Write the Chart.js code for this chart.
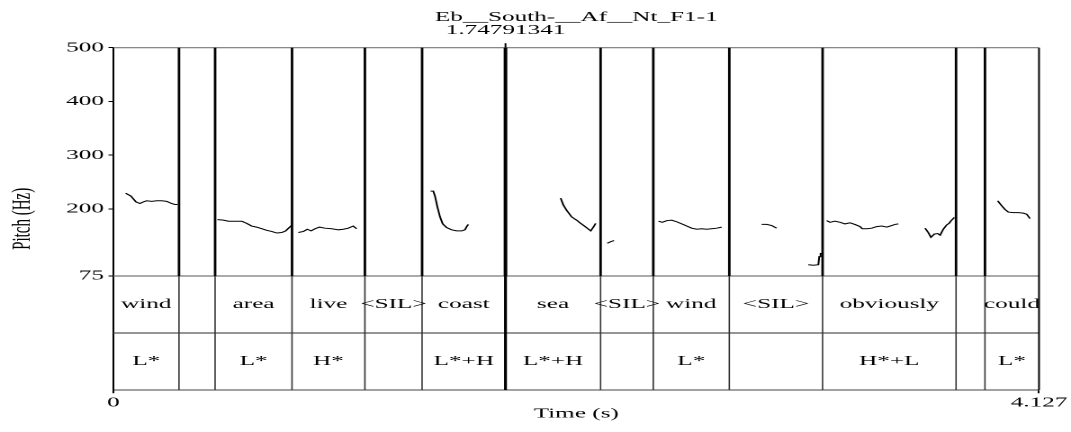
<!DOCTYPE html>
<html>
<head>
<meta charset="utf-8">
<script src="https://cdn.jsdelivr.net/npm/chart.js@4.4.1/dist/chart.umd.min.js"></script>
<style>
  html, body { margin: 0; padding: 0; background: #fff; overflow: hidden; }
  #wrap { position: absolute; left: 0; top: 0; height: 432px; transform-origin: 0 0; }
</style>
</head>
<body>
<div id="wrap"><canvas id="pitch"></canvas></div>
<script>
// ---- data (time in s, pitch in Hz) ----
const xMax = 4.127;
const cursorTime = 1.74791341;
const titleText = 'Eb__South-__Af__Nt_F1-1';
const pitchTicks = [75, 200, 300, 400, 500];

const boundaries = [0.292, 0.453, 0.796, 1.121, 1.376, cursorTime, 2.172, 2.407, 2.746, 3.162, 3.757, 3.886];
const words = ['wind', '', 'area', 'live', '<SIL>', 'coast', 'sea', '<SIL>', 'wind', '<SIL>', 'obviously', '', 'could'];
const tones = ['L*', '', 'L*', 'H*', '', 'L*+H', 'L*+H', '', 'L*', '', 'H*+L', '', 'L*'];

const windCurve = [[0.054,229],[0.077,224],[0.100,213],[0.118,210],[0.133,213],[0.148,215],[0.170,214],[0.193,215],[0.215,215],[0.237,214],[0.259,210],[0.274,208],[0.286,208]];
const areaCurve = [[0.463,180],[0.490,179],[0.512,177],[0.542,177],[0.572,177],[0.594,173],[0.616,168],[0.638,166],[0.661,163],[0.683,160],[0.705,158],[0.728,155],[0.750,156],[0.768,159],[0.783,165],[0.796,170]];
const liveCurve = [[0.824,156],[0.847,158],[0.864,162],[0.881,159],[0.899,163],[0.918,166],[0.943,164],[0.973,163],[1.003,161],[1.025,162],[1.047,164],[1.069,168],[1.084,163]];
const coastCurve = [[1.414,233],[1.426,233],[1.434,223],[1.444,204],[1.456,185],[1.468,172],[1.486,165],[1.508,161],[1.530,159],[1.553,159],[1.567,161],[1.575,167],[1.582,171]];
const seaCurve = [[1.994,220],[2.006,207],[2.021,197],[2.043,185],[2.065,179],[2.080,174],[2.103,167],[2.128,159],[2.140,166],[2.150,173]];
const sil1Curve = [[2.202,136],[2.218,139],[2.232,141]];
const wind2Curve = [[2.430,177],[2.447,175],[2.467,178],[2.489,179],[2.511,176],[2.534,172],[2.556,168],[2.578,164],[2.601,162],[2.623,163],[2.645,162],[2.667,163],[2.690,164],[2.712,166]];
const sil2Curve = [[2.890,171],[2.913,171],[2.935,169],[2.957,164]];
const sil3Curve = [[3.098,96],[3.121,95],[3.143,96],[3.147,111],[3.153,117],[3.158,117]];
const obviouslyCurve = [[3.180,178],[3.195,175],[3.217,177],[3.240,175],[3.262,172],[3.284,174],[3.306,171],[3.329,167],[3.339,163],[3.359,163],[3.381,164],[3.403,167],[3.425,168],[3.448,166],[3.463,168],[3.485,171],[3.500,172]];
const obviouslyTail = [[3.619,164],[3.633,156],[3.645,147],[3.660,153],[3.675,154],[3.686,151],[3.700,162],[3.715,170],[3.726,173],[3.735,178],[3.745,182],[3.749,184]];
const couldCurve = [[3.943,215],[3.958,207],[3.975,199],[3.990,194],[4.013,193],[4.035,193],[4.057,192],[4.072,190],[4.087,182]];

const curves = [windCurve, areaCurve, liveCurve, coastCurve, seaCurve, sil1Curve, wind2Curve,
                sil2Curve, sil3Curve, obviouslyCurve, obviouslyTail, couldCurve];

// ---- layout ----
const SX = 1.8;   // the praat picture is stretched sideways, so stretch the canvas too
const W = 1071, H = 432;
const LEFT = 113.5, RIGHT = 1039, TOP = 47.7, BOTTOM = 390, PITCH_BOTTOM = 276;
const FONT = '"Liberation Serif", "Times New Roman", serif';

// pitch axis only covers the upper part, tiers sit below 75 Hz
const yMin = 500 - (BOTTOM - TOP) * (500 - 75) / (PITCH_BOTTOM - TOP);

const wrap = document.getElementById('wrap');
wrap.style.width = (W / SX) + 'px';
wrap.style.transform = 'scaleX(' + SX + ')';

// curves -> one line with gaps
const pitchData = [];
curves.forEach(c => {
  c.forEach(p => pitchData.push({x: p[0], y: p[1]}));
  pitchData.push({x: c[c.length - 1][0], y: null});
});

function line(ctx, x1, y1, x2, y2) {
  ctx.beginPath();
  ctx.moveTo(x1, y1);
  ctx.lineTo(x2, y2);
  ctx.stroke();
}

const tierPlugin = {
  id: 'tiers',
  afterDraw(chart) {
    const {ctx, chartArea: a, scales: {x, y}} = chart;
    const y75 = y.getPixelForValue(75);
    const yMid = (y75 + a.bottom) / 2;
    ctx.save();

    // frame lines
    ctx.strokeStyle = '#777';
    ctx.lineWidth = 1.2;
    line(ctx, a.left, a.top, a.right, a.top);
    line(ctx, a.left, y75, a.right, y75);
    ctx.strokeStyle = '#555';
    line(ctx, a.left, yMid, a.right, yMid);
    ctx.strokeStyle = '#000';
    ctx.lineWidth = 1;
    line(ctx, a.right, a.top, a.right, a.bottom);

    // interval boundaries
    boundaries.forEach(t => {
      const px = x.getPixelForValue(t);
      const big = t === cursorTime;
      ctx.strokeStyle = '#000';
      ctx.lineWidth = big ? 2 : 1.4;
      line(ctx, px, a.top, px, y75);
      ctx.strokeStyle = big ? '#000' : '#333';
      ctx.lineWidth = big ? 1.6 : 0.8;
      line(ctx, px, y75, px, a.bottom);
    });

    // cursor mark above the box
    const cx = x.getPixelForValue(cursorTime);
    ctx.strokeStyle = '#000';
    ctx.lineWidth = 1;
    line(ctx, cx, a.top - 4.5, cx, a.top);

    // tier texts
    ctx.fillStyle = '#000';
    ctx.font = '14px ' + FONT;
    ctx.textAlign = 'center';
    ctx.textBaseline = 'middle';
    const edges = [0].concat(boundaries, [xMax]);
    for (let i = 0; i < words.length; i++) {
      const mid = (x.getPixelForValue(edges[i]) + x.getPixelForValue(edges[i + 1])) / 2;
      if (words[i]) ctx.fillText(words[i], mid, (y75 + yMid) / 2);
      if (tones[i]) ctx.fillText(tones[i], mid, (yMid + a.bottom) / 2);
    }

    // title, second line is the cursor time
    ctx.textBaseline = 'alphabetic';
    ctx.fillText(titleText, (a.left + a.right) / 2, 21);
    ctx.fillText(String(cursorTime), cx, 34);
    ctx.restore();
  }
};

new Chart(document.getElementById('pitch'), {
  type: 'line',
  data: {
    datasets: [{
      data: pitchData,
      borderColor: '#000',
      borderWidth: 1,
      pointRadius: 0,
      tension: 0,
      spanGaps: false
    }]
  },
  options: {
    responsive: true,
    maintainAspectRatio: false,
    animation: false,
    devicePixelRatio: 2,
    layout: { padding: { left: 0, top: TOP, right: (W - RIGHT) / SX, bottom: 0 } },
    plugins: { legend: { display: false }, tooltip: { enabled: false } },
    scales: {
      x: {
        type: 'linear',
        min: 0,
        max: xMax,
        afterFit: s => { s.height = H - BOTTOM; },
        afterBuildTicks: s => { s.ticks = [{value: 0}, {value: xMax}]; },
        grid: { drawOnChartArea: false, tickLength: 3.3, color: '#000' },
        border: { color: '#444', width: 1 },
        ticks: {
          autoSkip: false,
          maxRotation: 0,
          padding: 1,
          color: '#000',
          font: { family: FONT, size: 14 },
          callback: v => (v === 0 ? '0' : String(xMax))
        },
        title: {
          display: true,
          text: 'Time (s)',
          color: '#000',
          font: { family: FONT, size: 14 },
          padding: { top: 0, bottom: 9.6 }
        }
      },
      y: {
        min: yMin,
        max: 500,
        afterFit: s => { s.width = LEFT / SX; },
        afterBuildTicks: s => { s.ticks = pitchTicks.map(v => ({value: v})); },
        grid: { drawOnChartArea: false, tickLength: 2.8, color: '#000' },
        border: { color: '#000', width: 1 },
        ticks: {
          autoSkip: false,
          padding: 2.5,
          color: '#000',
          font: { family: FONT, size: 14 }
        },
        title: {
          display: true,
          text: 'Pitch (Hz)',
          color: '#000',
          font: { family: FONT, size: 15 },
          padding: { top: 3.5, bottom: 0 }
        }
      }
    }
  },
  plugins: [tierPlugin]
});
</script>
</body>
</html>
